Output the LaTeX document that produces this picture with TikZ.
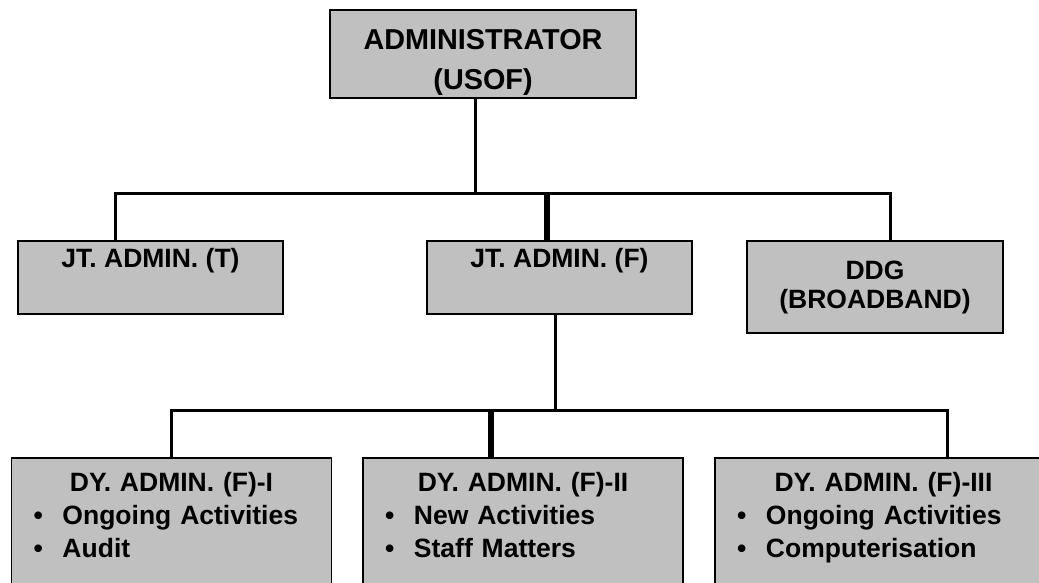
\documentclass[tikz,border=0pt]{standalone}
\usepackage{fontspec}
\setmainfont{Liberation Sans}
\usepackage{tikz}

\definecolor{boxgray}{HTML}{C0C0C0}
\newcommand{\dyhead}[1]{\makebox[\linewidth]{#1}}
\newcommand{\dyitem}{\hspace*{22pt}\makebox[29pt][l]{•}}

\begin{document}
\begin{tikzpicture}[x=1pt,y=-1pt]
		\useasboundingbox (0,0) rectangle (1039,582);
		\clip (0,0) rectangle (1039,582);

		\begin{scope}[every node/.style={rectangle,draw=black,line width=1.5pt,fill=boxgray,inner sep=0pt,
			font=\bfseries\fontsize{26.5}{29}\selectfont}]
			\node[minimum width=306pt,minimum height=88pt,align=center,text height=77pt,
				font=\bfseries\fontsize{28.8}{40}\selectfont] (admin) at (483,54) {ADMINISTRATOR\\(USOF)};
			\node[minimum width=265pt,minimum height=73pt,text height=20pt,text depth=40pt] (jtT) at (150.5,277.5) {JT. ADMIN. (T)};
			\node[minimum width=265pt,minimum height=73pt,text height=20pt,text depth=40pt] (jtF) at (559.5,277.5) {JT. ADMIN. (F)};
			\node[minimum width=256pt,minimum height=92pt,align=center] (ddg) at (875,287) {DDG\\(BROADBAND)};
		\end{scope}

		\begin{scope}[every node/.style={rectangle,draw=black,line width=1.5pt,fill=boxgray,anchor=north,
			align=left,inner xsep=0pt,inner ysep=14.5pt,text depth=130pt,
			font=\bfseries\fontsize{26.5}{33}\selectfont}]
			\node[text width=320pt] (dy1) at (171.5,457) {\dyhead{DY. ADMIN. (F)-I}\\\dyitem Ongoing Activities\\\dyitem Audit};
			\node[text width=320pt] (dy2) at (523,457) {\dyhead{DY. ADMIN. (F)-II}\\\dyitem New Activities\\\dyitem Staff Matters};
			\node[text width=337pt] (dy3) at (883.5,457) {\dyhead{DY. ADMIN. (F)-III}\\\dyitem Ongoing Activities\\\dyitem Computerisation};
		\end{scope}

		\coordinate (busA) at (475,193.5);
		\coordinate (busL) at (115,193.5);
		\coordinate (busM) at (547,193.5);
		\coordinate (busR) at (890,193.5);
		\coordinate (subA) at (555,410);
		\coordinate (subL) at (171,410);
		\coordinate (subM) at (491,410);
		\coordinate (subR) at (947.5,410);

		\begin{scope}[link/.style={draw=black,line width=3pt,line join=miter},
			trunk/.style={draw=black,line width=5.5pt}]
			\draw[link] (admin.south -| busA) -- (busA);
			\draw[link] (jtT.north -| busL) -- (busL) -- (busR) -- (ddg.north -| busR);
			\draw[trunk] (busM) -- (jtF.north -| busM);
			\draw[link] (jtF.south -| subA) -- (subA);
			\draw[link] (dy1.north -| subL) -- (subL) -- (subR) -- (dy3.north -| subR);
			\draw[trunk] (subM) -- (dy2.north -| subM);
		\end{scope}
	\end{tikzpicture}
\end{document}
